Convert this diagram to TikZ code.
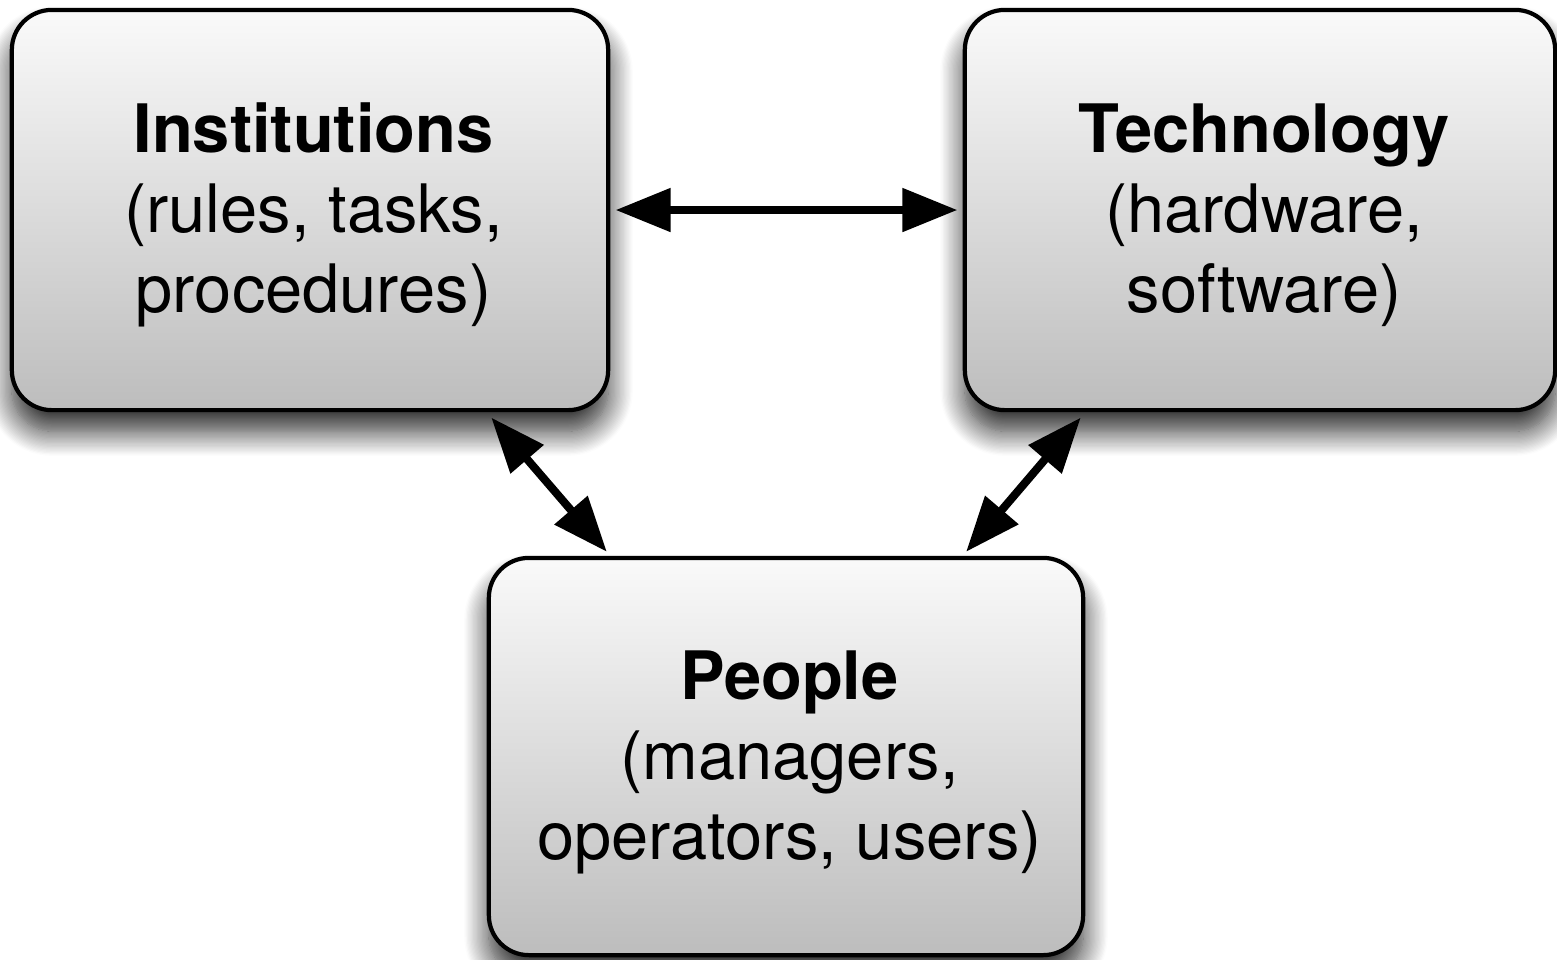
\documentclass[tikz,border=0pt]{standalone}
\usepackage{fontspec}
\setmainfont{TeX Gyre Heros}
\usetikzlibrary{arrows.meta,shadows.blur,calc}
\begin{document}
\begin{tikzpicture}[x=0.01cm,y=-0.01cm,
  box/.style={draw=black, line width=1.2pt, rounded corners=0.4cm,
    top color=gray!4, bottom color=gray!52,
    minimum width=5.96cm, minimum height=4cm, inner sep=0pt,
    blur shadow={shadow xshift=0pt, shadow yshift=-6pt, shadow blur radius=7pt,
      shadow blur steps=20, shadow opacity=85}},
  boxtext/.style={align=center, inner sep=0pt, font=\fontsize{19}{22.8}\selectfont},
  link/.style={line width=2.3pt,
    {Triangle[length=0.55cm,width=0.42cm]}-{Triangle[length=0.55cm,width=0.42cm]}}
]
\useasboundingbox (0,0) rectangle (1557,959);
\node[box] (inst) at (310,210) {};
\node[box, minimum width=5.9cm] (tech) at (1260,210) {};
\node[box, minimum width=5.94cm, minimum height=3.97cm] (people) at (786,756.5) {};
\node[boxtext] (instT) at ($(inst.center)+(3.5,5)$) {\textbf{Institutions}\\(rules, tasks,\\procedures)};
\node[boxtext] (techT) at ($(tech.center)+(4,5)$) {\textbf{Technology}\\(hardware,\\software)};
\node[boxtext] (peopleT) at ($(people.center)+(3.5,6)$) {\textbf{People}\\(managers,\\operators, users)};
\draw[link, shorten <=1.5pt, shorten >=1.5pt] (inst.east) -- (tech.west);
\draw[link, shorten <=2pt, shorten >=1.5pt] (people.north west |- inst.south) -- (inst.south east |- people.north);
\draw[link, shorten <=2pt, shorten >=1.5pt] (people.north east |- tech.south) -- (tech.south west |- people.north);
\end{tikzpicture}
\end{document}
